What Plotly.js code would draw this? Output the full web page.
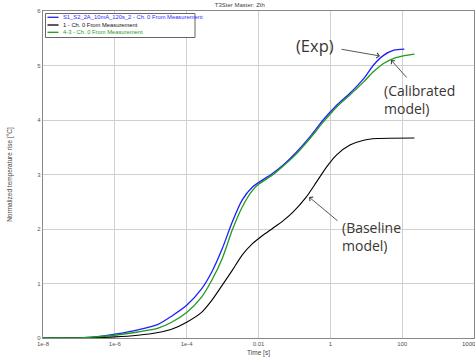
<!DOCTYPE html>
<html>
<head>
<meta charset="utf-8">
<script src="https://cdn.plot.ly/plotly-3.0.1.min.js"></script>
<style>html,body{margin:0;padding:0;background:#fff;}#chart{width:475px;height:358px;}</style>
</head>
<body>
<div id="chart"></div>
<script>
// ---- data (time in seconds, normalized temperature rise in °C) ----
const seriesNames = [
  "S1_S2_2A_10mA_120s_2 - Ch. 0 From Measurement",
  "1 - Ch. 0 From Measurement",
  "4-3 - Ch. 0 From Measurement"
];
const expTime = [1e-8, 1e-7, 3e-7, 1e-6, 4.4e-6, 1.6e-5, 3.8e-5, 1e-4, 2.6e-4, 5.0e-4, 9.8e-4, 1.86e-3, 3.5e-3, 6.8e-3, 0.0105, 0.0245, 0.048, 0.11, 0.27, 0.63, 1.5, 3.5, 8.5, 16, 31, 59, 115];
const expRise = [0, 0.004, 0.02, 0.07, 0.15, 0.25, 0.40, 0.60, 0.90, 1.21, 1.64, 2.13, 2.53, 2.77, 2.86, 3.02, 3.17, 3.40, 3.69, 4.0, 4.27, 4.49, 4.76, 5.01, 5.19, 5.28, 5.30];

const baseTime = [1e-8, 1e-7, 1e-6, 4.4e-6, 1.6e-5, 3.8e-5, 1e-4, 2.6e-4, 5.0e-4, 9.8e-4, 1.86e-3, 3.5e-3, 6.8e-3, 0.013, 0.0245, 0.048, 0.091, 0.21, 0.41, 0.79, 1.5, 3.5, 8.5, 20, 220];
const baseRise = [0, 0.003, 0.02, 0.05, 0.10, 0.16, 0.29, 0.47, 0.69, 0.97, 1.24, 1.52, 1.73, 1.88, 2.01, 2.15, 2.31, 2.58, 2.86, 3.14, 3.36, 3.54, 3.63, 3.66, 3.67];

const calTime = [1e-8, 1e-7, 3e-7, 1e-6, 4.4e-6, 1.6e-5, 3.8e-5, 1e-4, 2.6e-4, 5.0e-4, 9.8e-4, 1.86e-3, 3.5e-3, 6.8e-3, 0.0105, 0.0245, 0.048, 0.11, 0.27, 0.63, 1.5, 3.5, 8.5, 16, 31, 59, 115, 220];
const calRise = [0, 0.004, 0.02, 0.05, 0.11, 0.18, 0.29, 0.47, 0.75, 1.06, 1.46, 1.98, 2.40, 2.71, 2.83, 2.99, 3.15, 3.37, 3.66, 3.96, 4.24, 4.46, 4.70, 4.89, 5.04, 5.13, 5.18, 5.21];

const xTickVals = [1e-8, 1e-6, 1e-4, 0.01, 1, 100];
const xTickText = ["1e-8", "1e-6", "1e-4", "0.01", "1", "100"];
const xEndLabel = "1000";
const yTickVals = [0, 1, 2, 3, 4, 5, 6];

const colors = ["#1e1eff", "#000000", "#1f9a1f"];
const textColors = ["#2a2aff", "#111111", "#2a9a2a"];

// ---- plot ----
const lineShape = {shape: "spline", smoothing: 0.7};
const traces = [
  {x: expTime, y: expRise, name: seriesNames[0], mode: "lines", line: Object.assign({color: colors[0], width: 1.3}, lineShape)},
  {x: baseTime, y: baseRise, name: seriesNames[1], mode: "lines", line: Object.assign({color: colors[1], width: 1.1}, lineShape)},
  {x: calTime, y: calRise, name: seriesNames[2], mode: "lines", line: Object.assign({color: colors[2], width: 1.3}, lineShape)}
];

// pixel helpers for the manual legend (plot area: left 43, top 11, width 431, height 327)
const L = 43, T = 11, W = 431, H = 327;
const px = v => (v - L) / W;
const py = v => (T + H - v) / H;

const shapes = [
  {type: "rect", xref: "paper", yref: "paper", x0: px(45.5), x1: px(195), y0: py(37.5), y1: py(13.5),
   line: {color: "#666", width: 1}, fillcolor: "#fff", layer: "above"}
];
const annotations = [];
const legendRows = [17.3, 25, 32.3];
for (let i = 0; i < 3; i++) {
  shapes.push({type: "line", xref: "paper", yref: "paper", x0: px(47.5), x1: px(58.5),
    y0: py(legendRows[i]), y1: py(legendRows[i]), line: {color: colors[i], width: 1.3}, layer: "above"});
  annotations.push({xref: "paper", yref: "paper", x: px(60.5), y: py(legendRows[i]), xanchor: "left", yanchor: "middle",
    text: seriesNames[i], showarrow: false, font: {family: "Liberation Sans, Arial", size: 5.8, color: textColors[i]}});
}
// end-of-axis tick label (sits at the right border)
annotations.push({xref: "paper", yref: "paper", x: px(469), y: py(344), xanchor: "center", yanchor: "middle",
  text: xEndLabel, showarrow: false, font: {family: "Liberation Sans, Arial", size: 6, color: "#444"}});

function note(text, x, y, anchor, size) {
  annotations.push({xref: "paper", yref: "paper", x: px(x), y: py(y), xanchor: anchor, yanchor: "middle", align: "left",
    text: text, showarrow: false, font: {family: "Open Sans", size: size, color: "#3a3632"}});
}
note("(Exp)", 315, 46, "center", 16.5);
note("(Calibrated<br>model)", 382, 99.5, "left", 14);
note("(Baseline<br>model)", 340, 236.5, "left", 14);

function arrow(headX, headY, tailX, tailY) {
  annotations.push({xref: "paper", yref: "paper", x: px(headX), y: py(headY), ax: tailX - headX, ay: tailY - headY,
    axref: "pixel", ayref: "pixel", text: "", showarrow: true, arrowhead: 4, arrowsize: 1.1, arrowwidth: 0.9,
    arrowcolor: "#444", standoff: 0, startstandoff: 0});
}
arrow(380, 56, 340, 49);
arrow(391, 60, 408, 79);
arrow(309, 197, 339, 222);

const layout = {
  width: 475, height: 358,
  margin: {l: 43, r: 1, t: 11, b: 20, pad: 0},
  paper_bgcolor: "#fff", plot_bgcolor: "#fff",
  showlegend: false,
  font: {family: "Liberation Sans, Arial", size: 6, color: "#555"},
  title: {text: "T3Ster Master: Zth", x: 0.505, xanchor: "center", y: 0.985, yanchor: "middle",
    font: {family: "Liberation Sans, Arial", size: 6, color: "#444"}},
  xaxis: {
    type: "log", range: [-8, 4], tickvals: xTickVals, ticktext: xTickText,
    showgrid: true, gridcolor: "#d0d0d0", gridwidth: 1,
    showline: true, linecolor: "#888", linewidth: 1.2, mirror: true,
    ticks: "", zeroline: false,
    tickfont: {size: 6, color: "#555"},
    title: {text: "Time [s]", font: {size: 6.5, color: "#444"}, standoff: 4}
  },
  yaxis: {
    range: [0, 6], tickvals: yTickVals,
    showgrid: true, gridcolor: "#d0d0d0", gridwidth: 1,
    showline: true, linecolor: "#888", linewidth: 1.2, mirror: true,
    ticks: "", zeroline: false,
    tickfont: {size: 6, color: "#555"},
    title: {text: "Normalized temperature rise [°C]", font: {size: 6.5, color: "#444"}, standoff: 24}
  },
  shapes: shapes,
  annotations: annotations
};

Plotly.newPlot("chart", traces, layout, {displayModeBar: false, staticPlot: true});
</script>
</body>
</html>
